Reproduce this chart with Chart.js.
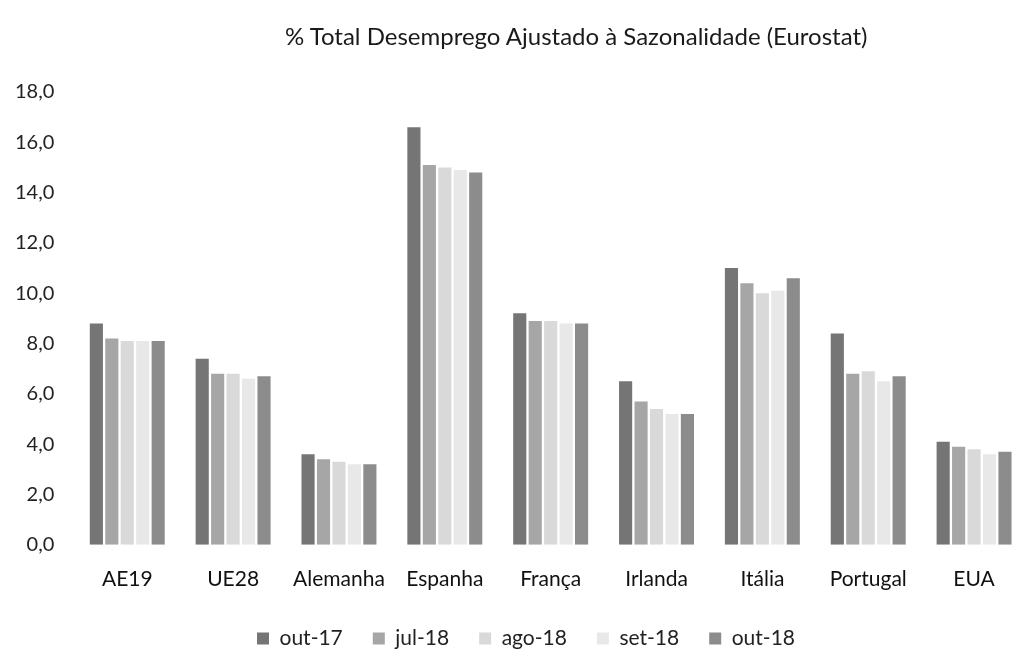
<!DOCTYPE html>
<html>
<head>
<meta charset="utf-8">
<script src="https://cdn.jsdelivr.net/npm/chart.js@4.4.0/dist/chart.umd.min.js"></script>
<style>
  html, body { margin: 0; padding: 0; background: #fff; overflow: hidden; }
  #wrap { position: relative; width: 1050px; height: 656px; }
  #title {
    position: absolute; top: 21px; left: 285px;
    font-family: Lato, "Open Sans", sans-serif; font-size: 24px; color: #1a1a1a;
    white-space: nowrap;
  }
</style>
</head>
<body>
<div id="wrap">
  <div id="title">% Total Desemprego Ajustado à Sazonalidade (Eurostat)</div>
  <canvas id="chart" width="1050" height="656"></canvas>
</div>
<script>
// Categories and series
const categories = ['AE19', 'UE28', 'Alemanha', 'Espanha', 'França', 'Irlanda', 'Itália', 'Portugal', 'EUA'];
const seriesNames = ['out-17', 'jul-18', 'ago-18', 'set-18', 'out-18'];
const out17 = [8.8, 7.4, 3.6, 16.6, 9.2, 6.5, 11.0, 8.4, 4.1];
const jul18 = [8.2, 6.8, 3.4, 15.1, 8.9, 5.7, 10.4, 6.8, 3.9];
const ago18 = [8.1, 6.8, 3.3, 15.0, 8.9, 5.4, 10.0, 6.9, 3.8];
const set18 = [8.1, 6.6, 3.2, 14.9, 8.8, 5.2, 10.1, 6.5, 3.6];
const out18 = [8.1, 6.7, 3.2, 14.8, 8.8, 5.2, 10.6, 6.7, 3.7];
const yTicksMax = 18;

const colors = ['#757575', '#a6a6a6', '#d9d9d9', '#e8e8e8', '#8c8c8c'];
const values = [out17, jul18, ago18, set18, out18];

const font = 'Lato, "Open Sans", sans-serif';

// Nudge the legend a bit to the right, like in the original
const shiftLegend = {
    id: 'shiftLegend',
    afterLayout(chart) {
        chart.legend.left += 15;
        chart.legend.right += 15;
    }
};

new Chart(document.getElementById('chart'), {
    type: 'bar',
    data: {
        labels: categories,
        datasets: seriesNames.map((name, i) => ({
            label: name,
            data: values[i],
            backgroundColor: colors[i],
            categoryPercentage: 0.73,
            barPercentage: 0.85
        }))
    },
    options: {
        responsive: false,
        animation: false,
        layout: { padding: { top: 92, left: -5, right: 23, bottom: -3 } },
        plugins: {
            title: { display: false },
            tooltip: { enabled: false },
            legend: {
                position: 'bottom',
                labels: {
                    font: { family: font, size: 21 },
                    color: '#222',
                    boxWidth: 12,
                    boxHeight: 12,
                    padding: 30
                }
            }
        },
        scales: {
            x: {
                grid: { display: false, drawTicks: false },
                border: { display: false },
                ticks: { font: { family: font, size: 21 }, color: '#111', padding: 22 },
                afterFit: s => { s.height -= 16; }
            },
            y: {
                min: 0,
                max: yTicksMax,
                grid: { display: false, drawTicks: false },
                border: { display: false },
                ticks: {
                    stepSize: 2,
                    padding: 20,
                    font: { family: font, size: 20 },
                    color: '#222',
                    callback: v => v.toFixed(1).replace('.', ',')
                }
            }
        }
    },
    plugins: [shiftLegend]
});
</script>
</body>
</html>
